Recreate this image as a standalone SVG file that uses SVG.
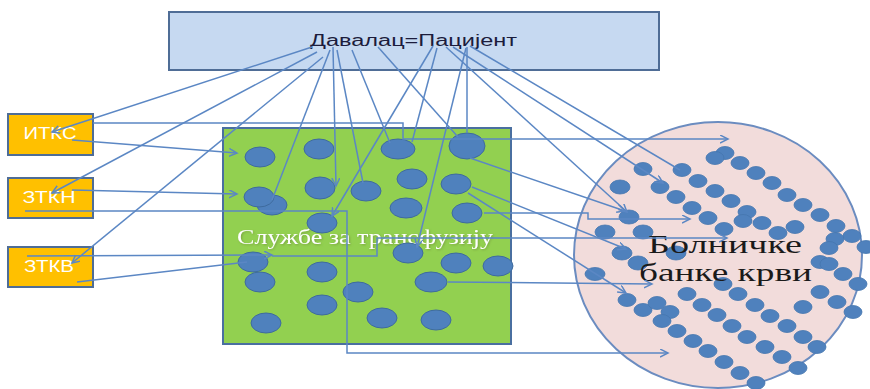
<svg xmlns="http://www.w3.org/2000/svg" width="870" height="389" viewBox="0 0 870 389">
<defs>
<marker id="arr" markerWidth="10" markerHeight="10" refX="8" refY="4" orient="auto" markerUnits="userSpaceOnUse">
<path d="M0,0 L8,4 L0,8" fill="none" stroke="#5b87c4" stroke-width="1.5"/>
</marker>
<filter id="glow" x="-10%" y="-30%" width="120%" height="160%">
<feGaussianBlur in="SourceAlpha" stdDeviation="1.2"/>
<feOffset dx="0.5" dy="0.5" result="b"/>
<feFlood flood-color="#6f8f3a" flood-opacity="0.7"/>
<feComposite in2="b" operator="in"/>
<feMerge><feMergeNode/><feMergeNode in="SourceGraphic"/></feMerge>
</filter>
</defs>
<style>
.box{stroke:#4f6d96;stroke-width:2}
.lbl{font-family:"Liberation Sans",Arial,sans-serif;font-size:16px;fill:#ffffff;text-anchor:middle}
.gd{fill:#4f81bd;stroke:#3e6b9e;stroke-width:1}
.pd{fill:#4f81bd;stroke:#4576ae;stroke-width:0.8}
.cn{fill:none;stroke:#5b87c4;stroke-width:1.5}
.ar{marker-end:url(#arr)}
</style>
<rect width="870" height="389" fill="#ffffff"/>

<!-- donor = patient -->
<g id="donor">
<rect x="169" y="12" width="490" height="58" fill="#c6d9f1" class="box"/>
<text x="310" y="46" textLength="207" lengthAdjust="spacingAndGlyphs" font-family="'Liberation Sans',Arial,sans-serif" font-size="16" fill="#1c1c3c">Давалац=Пацијент</text>
</g>

<!-- source boxes -->
<g id="itks">
<rect x="8" y="114" width="85" height="41" fill="#ffc000" class="box"/>
<text x="50" y="139" class="lbl" textLength="53" lengthAdjust="spacingAndGlyphs">ИТКС</text>
</g>
<g id="ztkn">
<rect x="8" y="178" width="85" height="40" fill="#ffc000" class="box"/>
<text x="49" y="203" class="lbl" textLength="53" lengthAdjust="spacingAndGlyphs">ЗТКН</text>
</g>
<g id="ztkv">
<rect x="8" y="247" width="85" height="40" fill="#ffc000" class="box"/>
<text x="49" y="272" class="lbl" textLength="50" lengthAdjust="spacingAndGlyphs">ЗТКВ</text>
</g>

<!-- transfusion services -->
<g id="services">
<rect x="223" y="128" width="288" height="216" fill="#92d050" stroke="#4a6fa0" stroke-width="2"/>
<text x="237" y="244" textLength="256" lengthAdjust="spacingAndGlyphs" font-family="'Liberation Serif','Times New Roman',serif" font-size="20" fill="#ffffff" filter="url(#glow)">Службе за трансфузију</text>
<ellipse class="gd" cx="260" cy="157" rx="15" ry="10"/>
<ellipse class="gd" cx="319" cy="149" rx="15" ry="10"/>
<ellipse class="gd" cx="398" cy="149" rx="17" ry="10"/>
<ellipse class="gd" cx="467" cy="146" rx="18" ry="13"/>
<ellipse class="gd" cx="272" cy="205" rx="15" ry="10"/>
<ellipse class="gd" cx="259" cy="197" rx="15" ry="10"/>
<ellipse class="gd" cx="320" cy="188" rx="15" ry="11"/>
<ellipse class="gd" cx="366" cy="191" rx="15" ry="10"/>
<ellipse class="gd" cx="412" cy="179" rx="15" ry="10"/>
<ellipse class="gd" cx="456" cy="184" rx="15" ry="10"/>
<ellipse class="gd" cx="406" cy="208" rx="16" ry="10"/>
<ellipse class="gd" cx="467" cy="213" rx="15" ry="10"/>
<ellipse class="gd" cx="322" cy="223" rx="15" ry="10"/>
<ellipse class="gd" cx="408" cy="253" rx="15" ry="10"/>
<ellipse class="gd" cx="253" cy="262" rx="15" ry="10"/>
<ellipse class="gd" cx="456" cy="263" rx="15" ry="10"/>
<ellipse class="gd" cx="498" cy="266" rx="15" ry="10"/>
<ellipse class="gd" cx="260" cy="282" rx="15" ry="10"/>
<ellipse class="gd" cx="322" cy="272" rx="15" ry="10"/>
<ellipse class="gd" cx="431" cy="282" rx="16" ry="10"/>
<ellipse class="gd" cx="358" cy="292" rx="15" ry="10"/>
<ellipse class="gd" cx="322" cy="305" rx="15" ry="10"/>
<ellipse class="gd" cx="266" cy="323" rx="15" ry="10"/>
<ellipse class="gd" cx="382" cy="318" rx="15" ry="10"/>
<ellipse class="gd" cx="436" cy="320" rx="15" ry="10"/>
</g>

<!-- hospital blood banks -->
<g id="banks">
<ellipse cx="718" cy="255" rx="144" ry="133" fill="#f2dcdb" stroke="#6b8cc0" stroke-width="2"/>
<g>
<ellipse class="pd" cx="725" cy="153" rx="9" ry="6.5"/>
<ellipse class="pd" cx="715" cy="158" rx="9" ry="6.5"/>
<ellipse class="pd" cx="740" cy="163" rx="9" ry="6.5"/>
<ellipse class="pd" cx="756" cy="173" rx="9" ry="6.5"/>
<ellipse class="pd" cx="772" cy="183" rx="9" ry="6.5"/>
<ellipse class="pd" cx="787" cy="195" rx="9" ry="6.5"/>
<ellipse class="pd" cx="803" cy="205" rx="9" ry="6.5"/>
<ellipse class="pd" cx="820" cy="215" rx="9" ry="6.5"/>
<ellipse class="pd" cx="836" cy="226" rx="9" ry="6.5"/>
<ellipse class="pd" cx="852" cy="236" rx="9" ry="6.5"/>
<ellipse class="pd" cx="866" cy="247" rx="9" ry="6.5"/>
<ellipse class="pd" cx="643" cy="169" rx="9" ry="6.5"/>
<ellipse class="pd" cx="682" cy="170" rx="9" ry="6.5"/>
<ellipse class="pd" cx="698" cy="181" rx="9" ry="6.5"/>
<ellipse class="pd" cx="715" cy="191" rx="9" ry="6.5"/>
<ellipse class="pd" cx="731" cy="201" rx="9" ry="6.5"/>
<ellipse class="pd" cx="747" cy="212" rx="9" ry="6.5"/>
<ellipse class="pd" cx="762" cy="223" rx="9" ry="6.5"/>
<ellipse class="pd" cx="778" cy="233" rx="9" ry="6.5"/>
<ellipse class="pd" cx="795" cy="227" rx="9" ry="6.5"/>
<ellipse class="pd" cx="620" cy="187" rx="10" ry="7"/>
<ellipse class="pd" cx="660" cy="187" rx="9" ry="6.5"/>
<ellipse class="pd" cx="676" cy="197" rx="9" ry="6.5"/>
<ellipse class="pd" cx="692" cy="208" rx="9" ry="6.5"/>
<ellipse class="pd" cx="708" cy="218" rx="9" ry="6.5"/>
<ellipse class="pd" cx="724" cy="229" rx="9" ry="6.5"/>
<ellipse class="pd" cx="743" cy="221" rx="9" ry="6.5"/>
<ellipse class="pd" cx="605" cy="232" rx="10" ry="7"/>
<ellipse class="pd" cx="629" cy="217" rx="10" ry="7"/>
<ellipse class="pd" cx="643" cy="232" rx="10" ry="7"/>
<ellipse class="pd" cx="676" cy="253" rx="10" ry="7"/>
<ellipse class="pd" cx="622" cy="253" rx="10" ry="7"/>
<ellipse class="pd" cx="638" cy="263" rx="10" ry="7"/>
<ellipse class="pd" cx="595" cy="274" rx="10" ry="6.5"/>
<ellipse class="pd" cx="835" cy="239" rx="9" ry="6.5"/>
<ellipse class="pd" cx="829" cy="248" rx="9" ry="6.5"/>
<ellipse class="pd" cx="820" cy="262" rx="9" ry="6.5"/>
<ellipse class="pd" cx="829" cy="264" rx="9" ry="6.5"/>
<ellipse class="pd" cx="843" cy="274" rx="9" ry="6.5"/>
<ellipse class="pd" cx="858" cy="284" rx="9" ry="6.5"/>
<ellipse class="pd" cx="820" cy="292" rx="9" ry="6.5"/>
<ellipse class="pd" cx="837" cy="302" rx="9" ry="6.5"/>
<ellipse class="pd" cx="853" cy="312" rx="9" ry="6.5"/>
<ellipse class="pd" cx="803" cy="307" rx="9" ry="6.5"/>
<ellipse class="pd" cx="723" cy="284" rx="9" ry="6.5"/>
<ellipse class="pd" cx="738" cy="294" rx="9" ry="6.5"/>
<ellipse class="pd" cx="755" cy="305" rx="9" ry="6.5"/>
<ellipse class="pd" cx="770" cy="316" rx="9" ry="6.5"/>
<ellipse class="pd" cx="787" cy="326" rx="9" ry="6.5"/>
<ellipse class="pd" cx="803" cy="337" rx="9" ry="6.5"/>
<ellipse class="pd" cx="817" cy="347" rx="9" ry="6.5"/>
<ellipse class="pd" cx="687" cy="294" rx="9" ry="6.5"/>
<ellipse class="pd" cx="702" cy="305" rx="9" ry="6.5"/>
<ellipse class="pd" cx="717" cy="315" rx="9" ry="6.5"/>
<ellipse class="pd" cx="732" cy="326" rx="9" ry="6.5"/>
<ellipse class="pd" cx="747" cy="337" rx="9" ry="6.5"/>
<ellipse class="pd" cx="765" cy="347" rx="9" ry="6.5"/>
<ellipse class="pd" cx="782" cy="357" rx="9" ry="6.5"/>
<ellipse class="pd" cx="798" cy="368" rx="9" ry="6.5"/>
<ellipse class="pd" cx="627" cy="300" rx="9" ry="6.5"/>
<ellipse class="pd" cx="643" cy="310" rx="9" ry="6.5"/>
<ellipse class="pd" cx="657" cy="303" rx="9" ry="6.5"/>
<ellipse class="pd" cx="670" cy="312" rx="9" ry="6.5"/>
<ellipse class="pd" cx="662" cy="321" rx="9" ry="6.5"/>
<ellipse class="pd" cx="677" cy="331" rx="9" ry="6.5"/>
<ellipse class="pd" cx="693" cy="341" rx="9" ry="6.5"/>
<ellipse class="pd" cx="708" cy="351" rx="9" ry="6.5"/>
<ellipse class="pd" cx="724" cy="362" rx="9" ry="6.5"/>
<ellipse class="pd" cx="740" cy="373" rx="9" ry="6.5"/>
<ellipse class="pd" cx="756" cy="383" rx="9" ry="6.5"/>
</g>
<text font-family="'Liberation Serif','Times New Roman',serif" font-size="25" fill="#1a1a1a">
<tspan x="648" y="253" textLength="154" lengthAdjust="spacingAndGlyphs">Болничке</tspan>
<tspan x="639" y="281" textLength="173" lengthAdjust="spacingAndGlyphs">банке крви</tspan>
</text>
</g>

<!-- connectors -->
<g id="connectors">
<path class="cn ar" d="M312,47 L52,132"/>
<path class="cn ar" d="M317,52 L52,193"/>
<path class="cn ar" d="M323,57 L72,263"/>
<path class="cn" d="M330,50 L272,200"/>
<path class="cn ar" d="M333,47 L336,186"/>
<path class="cn" d="M337,50 L363,183"/>
<path class="cn" d="M352,50 L390,143"/>
<path class="cn ar" d="M433,46 L332,216"/>
<path class="cn" d="M437,48 L412,142"/>
<path class="cn" d="M378,47 L458,137"/>
<path class="cn ar" d="M466,48 L417,247"/>
<path class="cn" d="M467,47 L467,133"/>
<path class="cn ar" d="M446,47 L627,212"/>
<path class="cn ar" d="M453,47 L663,183"/>
<path class="cn" d="M470,46 L680,170"/>
<path class="cn ar" d="M93,123 L403,123 L403,139 L728,139"/>
<path class="cn ar" d="M72,140 L237,153"/>
<path class="cn ar" d="M72,190 L237,194"/>
<path class="cn ar" d="M25,211 L347,211 L347,353 L668,353"/>
<path class="cn ar" d="M27,256 L272,255"/>
<path class="cn ar" d="M272,256 L377,256 L377,238 L727,238"/>
<path class="cn" d="M77,282 L247,262"/>
<path class="cn ar" d="M470,158 L625,211"/>
<path class="cn ar" d="M472,187 L626,249"/>
<path class="cn ar" d="M468,193 L626,293"/>
<path class="cn ar" d="M484,213 L588,213 L588,219 L690,219"/>
<path class="cn ar" d="M448,282 L652,284"/>
</g>
</svg>
